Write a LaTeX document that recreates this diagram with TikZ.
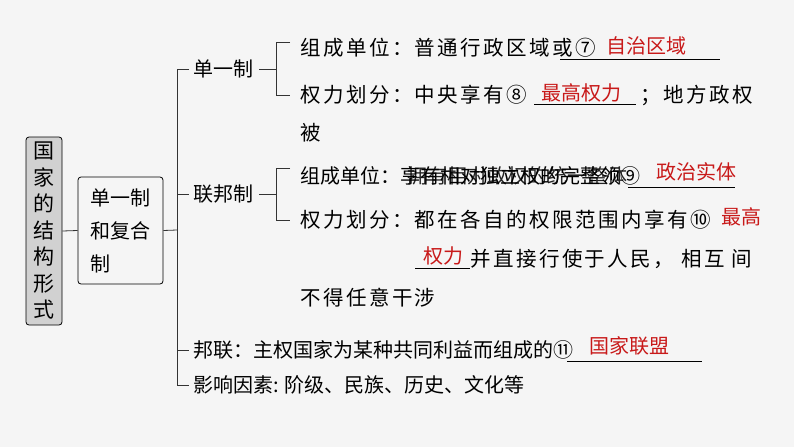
\documentclass[tikz,border=0pt]{standalone}
\usepackage{fontspec}
\setmainfont{Noto Sans CJK SC}
\newfontfamily\spc[LetterSpace=12]{Noto Sans CJK SC}
\begin{document}
\begin{tikzpicture}[x=1pt,y=-1pt,
  t/.style={anchor=west,inner sep=0pt,font=\spc\fontsize{20.5}{24}\selectfont},
  tp/.style={anchor=west,inner sep=0pt,font=\fontsize{20}{24}\selectfont},
  ans/.style={tp,text={rgb,255:red,200;green,25;blue,25}},
  ln/.style={draw=black!80,line width=0.8pt},
  ul/.style={draw=black,line width=0.8pt}]
\fill[white!96!black] (0,0) rectangle (794,447);
\node[draw,fill=black!18,rounded corners=3pt,line width=0.8pt,minimum width=36pt,minimum height=188pt,inner sep=0pt,align=center,font=\fontsize{21}{26.5}\selectfont] (root) at (44,231) {国\\家\\的\\结\\构\\形\\式};
\node[draw,rounded corners=3pt,line width=0.8pt,minimum width=85pt,minimum height=107pt,inner sep=6pt,align=left,font=\fontsize{20}{33}\selectfont] (sub) at (120.5,230.5) {单一制\\和复合\\制};
\draw[ln] (root.east) -- (sub.west);
\coordinate (tr) at (177,230);
\draw[ln] (sub.east) -- (tr);
\node[tp] (dy) at (193,69) {单一制};
\node[tp] (lb) at (193,194) {联邦制};
\node[tp] (bl) at (193,350) {邦联：主权国家为某种共同利益而组成的⑪};
\node[tp] (yx) at (193,385) {影响因素: 阶级、民族、历史、文化等};
\draw[ln] (dy.west)+(-4,0) -| (177,385) -- ([xshift=-4pt]yx.west);
\draw[ln] (177,194) -- ([xshift=-4pt]lb.west);
\draw[ln] (177,350) -- ([xshift=-4pt]bl.west);
% brackets
\draw[ln] ([xshift=6pt]dy.east) -- (276,69);
\draw[ln] (290,42) -- (276,42) -- (276,95) -- (290,95);
\draw[ln] ([xshift=6pt]lb.east) -- (276,194);
\draw[ln] (290,168) -- (276,168) -- (276,220) -- (290,220);
% unitary
\node[t] (a1) at (300,48) {组成单位：普通行政区域或⑦};
\node[ans] (r7) at (606,46) {自治区域};
\draw[ul] (560,59) -- (720,59);
\node[t] (a2) at (300,95) {权力划分：中央享有⑧};
\node[ans] (r8) at (541,93) {最高权力};
\draw[ul] (534,104) -- (636,104);
\node[t] (a3) at (640,95) {；地方政权};
\node[t] (a4) at (300,133) {被};
% federal
\node[tp] (b1) at (300,176) {组成单位：享有相对独立权的完整领⑨};
\node[tp,opacity=0.85] (b1x) at (407,176) {拥有相对政权的统一整体};
\node[ans] (r9) at (656,172) {政治实体};
\draw[ul] (628,187) -- (735,187);
\node[t] (b2) at (300,220) {权力划分：都在各自的权限范围内享有⑩};
\node[ans] (r10a) at (721,217) {最高};
\node[ans] (r10b) at (423,256) {权力};
\draw[ul] (415,268) -- (470,268);
\node[t] (b3) at (470,259) {并直接行使于人民， 相互 间};
\node[t] (b4) at (300,298) {不得任意干涉};
% confederation
\node[ans] (r11) at (589,346) {国家联盟};
\draw[ul] (567,361) -- (702,361);
\end{tikzpicture}
\end{document}
